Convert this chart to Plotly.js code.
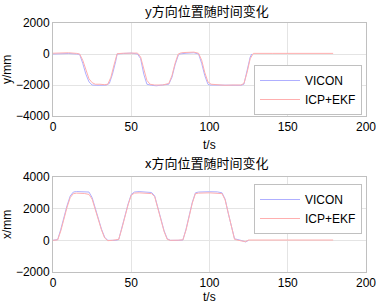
<!DOCTYPE html>
<html><head><meta charset="utf-8">
<script src="https://cdn.plot.ly/plotly-3.0.1.min.js"></script>
<style>html,body{margin:0;padding:0;background:#fff}#c{width:376px;height:304px}</style>
</head><body><div id="c"></div>
<script>
// Top plot: y position vs time
const yVicT = [0,5,10,15,17,19,21,23,25,28,31,34,36,38,40,41,45,50,54,56,58,60,63,66,70,74,76,78,80,81,85,90,93,95,97,99,100,105,110,115,120,122,124,126,127];
const yVicV = [0,20,30,0,-20,-600,-1300,-1800,-2000,-2020,-2000,-2010,-1900,-1300,-500,0,30,60,0,-300,-1300,-1950,-2020,-2050,-2000,-1950,-1500,-700,-100,0,50,80,0,-600,-1400,-1950,-2000,-2010,-2030,-2000,-2020,-1950,-1000,-200,0];
const yEkfT = [0,5,10,15,17,19,21,23,25,27,30,33,35,37,39,41,45,50,54,56,58,60,62,65,70,74,76,78,80,82,85,90,93,95,97,99,101,105,110,115,120,122,124,126,128,140,160,179];
const yEkfV = [50,60,80,40,0,-400,-1000,-1600,-1850,-1950,-1950,-1980,-1950,-1500,-700,20,50,80,60,-200,-1000,-1700,-1950,-2000,-2000,-1900,-1400,-600,0,80,100,120,50,-400,-1200,-1800,-1950,-2000,-2020,-2000,-2000,-1900,-1200,-300,40,40,40,40];
// Bottom plot: x position vs time
const xVicT = [0,3,5,7,9,11,13,15,20,23,25,27,29,31,33,35,38,40,42,44,46,48,50,52,55,60,63,65,67,69,71,73,75,80,83,85,87,89,91,93,100,105,108,110,112,114,116,120,123,125];
const xVicV = [0,50,700,1500,2200,2800,3050,3080,3080,3050,2700,2000,1300,700,200,0,0,0,50,800,1600,2300,2900,3050,3080,3050,3020,2800,2100,1300,600,100,0,0,20,700,1600,2400,3000,3050,3070,3060,3000,2600,1700,800,100,0,-100,0];
const xEkfT = [0,3,5,7,9,11,13,15,20,23,25,27,29,31,33,35,38,40,42,44,46,48,50,52,55,60,63,65,67,69,71,73,75,80,83,85,87,89,91,93,100,105,108,110,112,114,116,120,123,125,140,160,179];
const xEkfV = [0,30,600,1400,2100,2700,2950,2980,2960,2900,2600,1950,1250,650,150,-20,0,10,60,750,1550,2250,2850,2980,3000,2980,2950,2750,2050,1250,550,60,0,10,30,650,1550,2350,2950,2980,3000,2980,2950,2550,1650,750,60,-30,-80,20,20,20,20];

const blue = 'rgb(175,175,255)', red = 'rgb(255,175,175)';
const traces = [
  {x:yVicT,y:yVicV,name:'VICON',mode:'lines',line:{color:blue,width:1},xaxis:'x',yaxis:'y',legend:'legend'},
  {x:yEkfT,y:yEkfV,name:'ICP+EKF',mode:'lines',line:{color:red,width:1},xaxis:'x',yaxis:'y',legend:'legend'},
  {x:xVicT,y:xVicV,name:'VICON',mode:'lines',line:{color:blue,width:1},xaxis:'x2',yaxis:'y2',legend:'legend2'},
  {x:xEkfT,y:xEkfV,name:'ICP+EKF',mode:'lines',line:{color:red,width:1},xaxis:'x2',yaxis:'y2',legend:'legend2'}
];
const ax = {showline:true,mirror:true,linecolor:'#c0c0c0',linewidth:1,showgrid:true,gridcolor:'#e4e4e4',zeroline:false,
  ticks:'',ticklabeloverflow:'allow',tickfont:{family:'Liberation Sans, Arial',size:12,color:'#000'},fixedrange:true};
const dom = [53/376, 366/376];
const legendStyle = {bgcolor:'#fff',bordercolor:'#c0c0c0',borderwidth:1,font:{family:'Liberation Sans, Arial',size:12,color:'#000'},
  xanchor:'right',yanchor:'top',x:362/376,itemwidth:40,tracegroupgap:0};
const fnt = {family:'Liberation Sans, Arial',size:12,color:'#000'};
const cjk = {family:'Noto Sans CJK SC',size:13,color:'#000'};
const layout = {
  width:376,height:304,margin:{l:0,r:0,t:0,b:0},paper_bgcolor:'#fff',plot_bgcolor:'#fff',showlegend:true,
  xaxis:Object.assign({},ax,{domain:dom,range:[0,200],tickvals:[0,50,100,150,200],anchor:'y'}),
  yaxis:Object.assign({},ax,{domain:[188/304,281/304],range:[-4000,2000],tickvals:[-4000,-2000,0,2000],anchor:'x'}),
  xaxis2:Object.assign({},ax,{domain:dom,range:[0,200],tickvals:[0,50,100,150,200],anchor:'y2'}),
  yaxis2:Object.assign({},ax,{domain:[32/304,127/304],range:[-2000,4000],tickvals:[-2000,0,2000,4000],anchor:'x2'}),
  legend:Object.assign({},legendStyle,{y:(304-65)/304}),
  legend2:Object.assign({},legendStyle,{y:(304-184)/304}),
  annotations:[
    {text:'y方向位置随时间变化',x:207/376,y:(304-10)/304,xref:'paper',yref:'paper',xanchor:'center',yanchor:'middle',showarrow:false,font:cjk},
    {text:'x方向位置随时间变化',x:207/376,y:(304-163)/304,xref:'paper',yref:'paper',xanchor:'center',yanchor:'middle',showarrow:false,font:cjk},
    {text:'t/s',x:209/376,y:(304-145)/304,xref:'paper',yref:'paper',xanchor:'center',yanchor:'middle',showarrow:false,font:fnt},
    {text:'t/s',x:209/376,y:(304-297)/304,xref:'paper',yref:'paper',xanchor:'center',yanchor:'middle',showarrow:false,font:fnt},
    {text:'y/mm',x:7/376,y:(304-70)/304,xref:'paper',yref:'paper',xanchor:'center',yanchor:'middle',showarrow:false,textangle:-90,font:fnt},
    {text:'x/mm',x:7/376,y:(304-225)/304,xref:'paper',yref:'paper',xanchor:'center',yanchor:'middle',showarrow:false,textangle:-90,font:fnt}
  ]
};
Plotly.newPlot('c',traces,layout,{staticPlot:true});
</script></body></html>
